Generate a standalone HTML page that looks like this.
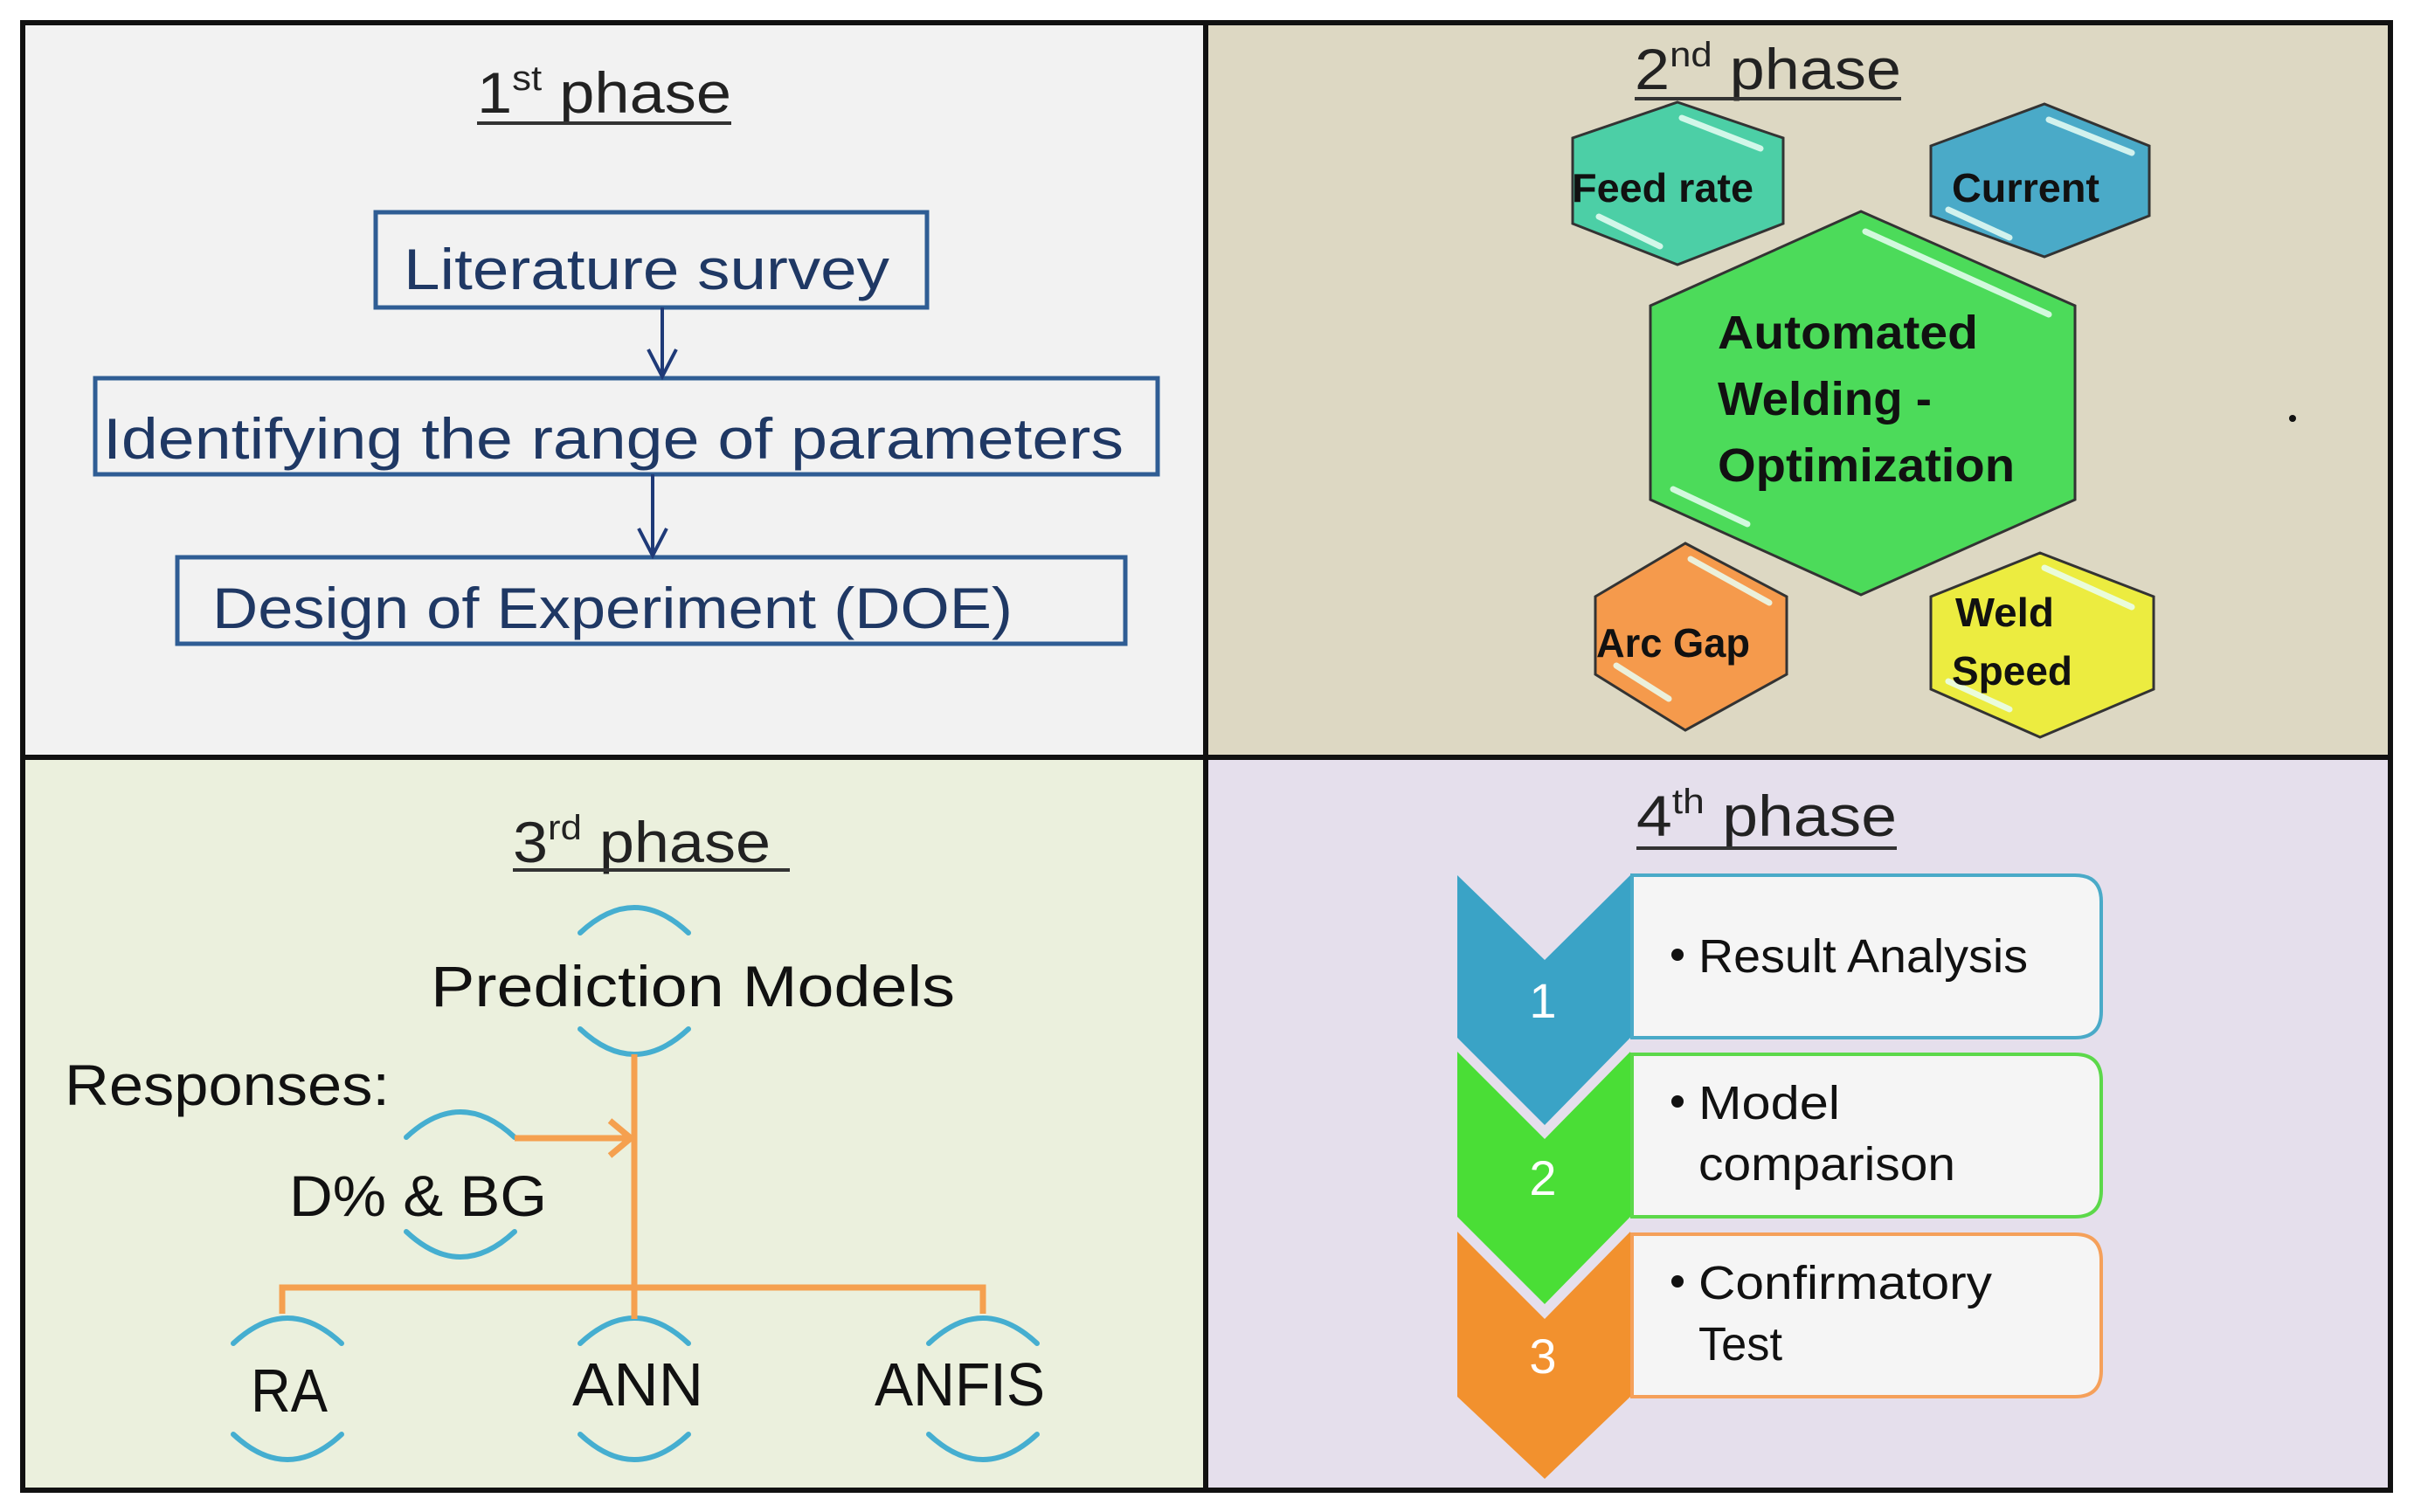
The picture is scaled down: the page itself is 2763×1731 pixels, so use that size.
<!DOCTYPE html>
<html><head><meta charset="utf-8"><style>html,body{margin:0;padding:0;background:#fff}svg{display:block}</style></head>
<body>
<svg width="2763" height="1731" viewBox="0 0 2763 1731" xmlns="http://www.w3.org/2000/svg" font-family="Liberation Sans, sans-serif">
<rect x="26" y="26" width="1354" height="841" fill="#f2f2f2"/>
<rect x="1380" y="26" width="1356" height="841" fill="#ddd8c3"/>
<rect x="26" y="867" width="1354" height="839" fill="#ebf0dd"/>
<rect x="1380" y="867" width="1356" height="839" fill="#e5dfec"/>
<rect x="26" y="26" width="2710" height="1680" fill="none" stroke="#111" stroke-width="6"/>
<line x1="1380" y1="26" x2="1380" y2="1706" stroke="#111" stroke-width="6"/>
<line x1="26" y1="867" x2="2736" y2="867" stroke="#111" stroke-width="6"/>

<text x="546" y="129" font-size="66" fill="#222" textLength="291" lengthAdjust="spacingAndGlyphs">1<tspan font-size="40" dy="-26">st</tspan><tspan dy="26"> phase</tspan></text>
<line x1="546" y1="141" x2="837" y2="141" stroke="#333" stroke-width="4"/>
<g fill="none" stroke="#2f5d94" stroke-width="5">
<rect x="430" y="243" width="631" height="109"/>
<rect x="109" y="433" width="1216" height="110"/>
<rect x="203" y="638" width="1085" height="99"/>
</g>
<g stroke="#1f3a78" stroke-width="4" fill="none">
<line x1="758" y1="352" x2="758" y2="431"/><polyline points="742,400 758,431 774,400"/>
<line x1="747" y1="543" x2="747" y2="636"/><polyline points="731,605 747,636 763,605"/>
</g>
<g fill="#1f3864" font-size="66">
<text x="462" y="331" textLength="556" lengthAdjust="spacingAndGlyphs">Literature survey</text>
<text x="118" y="525" textLength="1168" lengthAdjust="spacingAndGlyphs">Identifying the range of parameters</text>
<text x="243" y="719" textLength="916" lengthAdjust="spacingAndGlyphs">Design of Experiment (DOE)</text>
</g>

<text x="1871" y="102" font-size="66" fill="#222" textLength="305" lengthAdjust="spacingAndGlyphs">2<tspan font-size="40" dy="-26">nd</tspan><tspan dy="26"> phase</tspan></text>
<line x1="1871" y1="113" x2="2176" y2="113" stroke="#333" stroke-width="4"/>
<g stroke="#333" stroke-width="3">
<polygon points="1920,117 2041,158 2041,256 1920,303 1800,256 1800,158" fill="#4ccfa6"/>
<polygon points="2340,119 2460,167 2460,247 2340,294 2210,247 2210,167" fill="#4aaac8"/>
<polygon points="2130,242 2375,350 2375,572 2130,681 1889,572 1889,350" fill="#4cdb5a"/>
<polygon points="1929,622 2045,683 2045,772 1929,836 1826,772 1826,683" fill="#f59a4c"/>
<polygon points="2335,633 2465,683 2465,789 2335,844 2210,789 2210,683" fill="#ecec40"/>
</g>
<g stroke="#eafff5" stroke-width="7" stroke-linecap="round" opacity="0.85">
<line x1="1925" y1="135" x2="2015" y2="170"/><line x1="1830" y1="248" x2="1900" y2="282"/>
<line x1="2345" y1="137" x2="2440" y2="175"/><line x1="2230" y1="240" x2="2300" y2="272"/>
<line x1="2135" y1="265" x2="2345" y2="360"/><line x1="1915" y1="560" x2="2000" y2="600"/>
<line x1="1935" y1="640" x2="2025" y2="690"/><line x1="1850" y1="762" x2="1910" y2="800"/>
<line x1="2340" y1="650" x2="2440" y2="695"/><line x1="2230" y1="780" x2="2300" y2="812"/>
</g>
<g font-weight="bold" fill="#111">
<text x="1799" y="231" font-size="46" textLength="208" lengthAdjust="spacingAndGlyphs">Feed rate</text>
<text x="2234" y="231" font-size="46" textLength="169" lengthAdjust="spacingAndGlyphs">Current</text>
<text x="1966" y="399" font-size="54" textLength="298" lengthAdjust="spacingAndGlyphs">Automated</text>
<text x="1966" y="475" font-size="54" textLength="245" lengthAdjust="spacingAndGlyphs">Welding -</text>
<text x="1966" y="551" font-size="54" textLength="340" lengthAdjust="spacingAndGlyphs">Optimization</text>
<text x="1827" y="752" font-size="46" textLength="176" lengthAdjust="spacingAndGlyphs">Arc Gap</text>
<text x="2238" y="717" font-size="46" textLength="113" lengthAdjust="spacingAndGlyphs">Weld</text>
<text x="2234" y="784" font-size="46" textLength="138" lengthAdjust="spacingAndGlyphs">Speed</text>
</g>
<circle cx="2624" cy="479" r="4" fill="#111"/>

<text x="587" y="987" font-size="66" fill="#222" textLength="295" lengthAdjust="spacingAndGlyphs">3<tspan font-size="40" dy="-26">rd</tspan><tspan dy="26"> phase</tspan></text>
<line x1="587" y1="996" x2="904" y2="996" stroke="#333" stroke-width="4"/>
<g fill="none" stroke="#45aed0" stroke-width="6" stroke-linecap="round">
<path d="M664,1068 Q726,1010 788,1068"/><path d="M664,1178 Q726,1236 788,1178"/>
<path d="M465,1302 Q527,1244 589,1302"/><path d="M465,1410 Q527,1468 589,1410"/>
<path d="M267,1538 Q329,1480 391,1538"/><path d="M267,1642 Q329,1700 391,1642"/>
<path d="M664,1538 Q726,1480 788,1538"/><path d="M664,1642 Q726,1700 788,1642"/>
<path d="M1063,1538 Q1125,1480 1187,1538"/><path d="M1063,1642 Q1125,1700 1187,1642"/>
</g>
<g stroke="#f5a04f" stroke-width="7" fill="none">
<line x1="726" y1="1207" x2="726" y2="1510"/>
<polyline points="323,1504 323,1474 1125,1474 1125,1504"/>
<line x1="589" y1="1303" x2="722" y2="1303"/>
<polyline points="698,1283 722,1303 698,1323"/>
</g>
<g fill="#111" font-size="66">
<text x="493" y="1152" textLength="600" lengthAdjust="spacingAndGlyphs">Prediction Models</text>
<text x="74" y="1265" textLength="372" lengthAdjust="spacingAndGlyphs">Responses:</text>
<text x="331" y="1392" textLength="295" lengthAdjust="spacingAndGlyphs">D% &amp; BG</text>
<text x="287" y="1616" font-size="70" textLength="88" lengthAdjust="spacingAndGlyphs">RA</text>
<text x="655" y="1609" font-size="70" textLength="150" lengthAdjust="spacingAndGlyphs">ANN</text>
<text x="1001" y="1609" font-size="70" textLength="195" lengthAdjust="spacingAndGlyphs">ANFIS</text>
</g>

<text x="1873" y="957" font-size="66" fill="#222" textLength="298" lengthAdjust="spacingAndGlyphs">4<tspan font-size="40" dy="-26">th</tspan><tspan dy="26"> phase</tspan></text>
<line x1="1873" y1="971" x2="2171" y2="971" stroke="#333" stroke-width="4"/>
<g stroke-width="4">
<path d="M1868,1002 H2375 Q2405,1002 2405,1032 V1158 Q2405,1188 2375,1188 H1868 Z" fill="#f5f5f5" stroke="#4aaac8"/>
<path d="M1868,1207 H2375 Q2405,1207 2405,1237 V1363 Q2405,1393 2375,1393 H1868 Z" fill="#f5f5f5" stroke="#5cd84a"/>
<path d="M1868,1413 H2375 Q2405,1413 2405,1443 V1569 Q2405,1599 2375,1599 H1868 Z" fill="#f5f5f5" stroke="#f5a05a"/>
</g>
<polygon points="1668,1410 1768,1510 1866,1410 1866,1599 1768,1693 1668,1599" fill="#f2912e"/>
<polygon points="1668,1204 1768,1304 1866,1204 1866,1393 1768,1493 1668,1393" fill="#4ade36"/>
<polygon points="1668,1002 1768,1099 1866,1002 1866,1188 1768,1288 1668,1188" fill="#3aa3c6"/>
<g fill="#fff" font-size="56" text-anchor="middle">
<text x="1766" y="1165">1</text><text x="1766" y="1368">2</text><text x="1766" y="1572">3</text>
</g>
<g fill="#111" font-size="54">
<circle cx="1920" cy="1093" r="7"/><circle cx="1920" cy="1261" r="7"/><circle cx="1920" cy="1467" r="7"/>
<text x="1944" y="1113" textLength="377" lengthAdjust="spacingAndGlyphs">Result Analysis</text>
<text x="1944" y="1281" textLength="162" lengthAdjust="spacingAndGlyphs">Model</text>
<text x="1944" y="1351" textLength="294" lengthAdjust="spacingAndGlyphs">comparison</text>
<text x="1944" y="1487" textLength="336" lengthAdjust="spacingAndGlyphs">Confirmatory</text>
<text x="1944" y="1557" textLength="96" lengthAdjust="spacingAndGlyphs">Test</text>
</g>
</svg>
</body></html>
